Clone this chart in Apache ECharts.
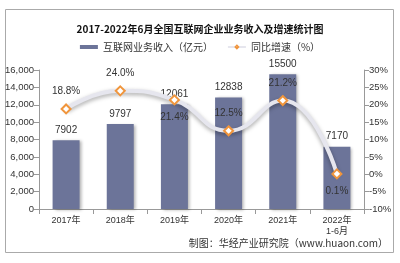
<!DOCTYPE html>
<html>
<head>
<meta charset="utf-8">
<script src="https://cdn.jsdelivr.net/npm/echarts@6/dist/echarts.min.js"></script>
<style>
  html, body { margin: 0; padding: 0; background: #fff; }
  #chart { width: 400px; height: 263px; }
</style>
</head>
<body>
<div id="chart"></div>
<script>
const categories = ['2017年', '2018年', '2019年', '2020年', '2021年', '2022年\n1-6月'];
const revenue = [7902, 9797, 12061, 12838, 15500, 7170];
const growth = [18.8, 24.0, 21.4, 12.5, 21.2, 0.1];
const growthLabelPos = ['top', 'top', 'bottom', 'top', 'top', 'bottom'];

const font = 'Arial, "Liberation Sans", "Noto Sans CJK SC", sans-serif';
const chart = echarts.init(document.getElementById('chart'));

chart.setOption({
  animation: false,
  title: {
    text: '2017-2022年6月全国互联网企业业务收入及增速统计图',
    left: 'center',
    top: 19,
    textStyle: { fontSize: 10, fontWeight: 'bold', color: '#111', fontFamily: '"Noto Sans CJK SC", sans-serif' }
  },
  legend: {
    top: 37,
    left: 'center',
    itemGap: 14,
    itemWidth: 18,
    itemHeight: 4,
    textStyle: { fontSize: 10, color: '#333', fontFamily: '"Noto Sans CJK SC", sans-serif' },
    data: [
      { name: '互联网业务收入（亿元）', icon: 'rect' },
      { name: '同比增速（%）', itemStyle: { borderWidth: 1.5 } }
    ]
  },
  graphic: [{
    type: 'rect',
    shape: { x: 5.5, y: 9.5, width: 388, height: 243 },
    style: { fill: 'none', stroke: '#aaa', lineWidth: 1 },
    silent: true
  }, {
    type: 'text',
    right: 12,
    top: 238,
    style: { text: '制图：华经产业研究院（www.huaon.com）', fontSize: 10, fill: '#333', fontFamily: '"Noto Sans CJK SC", sans-serif' }
  }],
  grid: { left: 39, right: 36, top: 70, bottom: 54, containLabel: false },
  xAxis: {
    type: 'category',
    data: categories,
    axisLine: { lineStyle: { color: '#999' } },
    axisTick: { show: true, lineStyle: { color: '#999' } },
    axisLabel: { fontSize: 9, color: '#333', fontFamily: font, lineHeight: 11, margin: 6 }
  },
  yAxis: [{
    type: 'value',
    min: 0, max: 16000, interval: 2000,
    axisLine: { show: true, lineStyle: { color: '#999' } },
    axisTick: { show: true, lineStyle: { color: '#999' } },
    splitLine: { show: false },
    axisLabel: { fontSize: 9.5, color: '#333', fontFamily: font, margin: 5 }
  }, {
    type: 'value',
    min: -10, max: 30, interval: 5,
    axisLine: { show: true, lineStyle: { color: '#999' } },
    axisTick: { show: true, lineStyle: { color: '#999' } },
    splitLine: { show: false },
    axisLabel: { fontSize: 9.5, color: '#333', fontFamily: font, margin: 5, formatter: '{value}%' }
  }],
  series: [{
    name: '互联网业务收入（亿元）',
    type: 'bar',
    data: revenue,
    barWidth: 27,
    itemStyle: {
      color: '#6c7499',
      shadowColor: 'rgba(0,0,0,0.3)',
      shadowBlur: 3,
      shadowOffsetX: 2,
      shadowOffsetY: 1
    },
    label: { show: true, position: 'top', distance: 5, fontSize: 10, color: '#333', fontFamily: font }
  }, {
    name: '同比增速（%）',
    type: 'line',
    yAxisIndex: 1,
    smooth: 0.5,
    data: growth.map((v, i) => ({
      value: v,
      label: { position: growthLabelPos[i] }
    })),
    symbol: 'diamond',
    symbolSize: 9,
    lineStyle: {
      color: '#e6e6ee',
      width: 4,
      shadowColor: 'rgba(0,0,0,0.35)',
      shadowBlur: 4,
      shadowOffsetY: 2
    },
    itemStyle: { color: '#fff', borderColor: '#f0953c', borderWidth: 2 },
    label: {
      show: true,
      fontSize: 10,
      color: '#333',
      fontFamily: font,
      distance: 7,
      formatter: p => p.value.toFixed(1) + '%'
    },
    z: 3
  }]
});
</script>
</body>
</html>
